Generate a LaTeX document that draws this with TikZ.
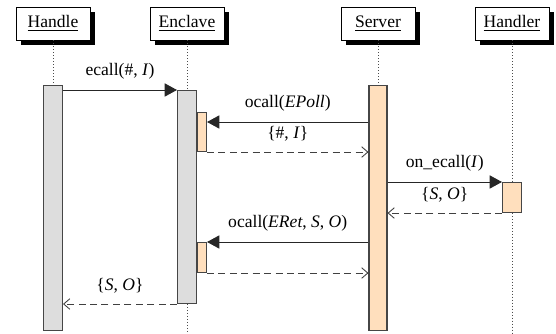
\documentclass[tikz,border=0pt]{standalone}
\usepackage{fontspec}
\setmainfont{Liberation Serif}
\usetikzlibrary{arrows.meta,positioning}
\definecolor{bargray}{RGB}{221,221,221}
\definecolor{barpeach}{RGB}{255,223,189}
\definecolor{edgegray}{RGB}{70,70,70}

\tikzset{
  actor/.style={draw=black,fill=white,minimum width=1.48cm,minimum height=0.66cm},
  actorshadow/.style={fill=black},
  bar/.style={draw=edgegray,fill=bargray,line width=0.6pt,minimum width=0.38cm,inner sep=0pt,anchor=north},
  nest/.style={draw=edgegray,fill=barpeach,line width=0.6pt,minimum width=0.19cm,inner sep=0pt,anchor=north west},
  lifeline/.style={draw=black!70,dash pattern=on 0.4pt off 1.3pt},
  call/.style={-{Triangle[length=7pt,width=7.5pt]},draw=black!85,line width=0.5pt},
  reply/.style={-{Straight Barb[length=3.5pt,width=6pt]},draw=black!75,dash pattern=on 4pt off 2.5pt,line width=0.5pt},
  msglabel/.style={midway,above=2.5pt}
}

\begin{document}
\begin{tikzpicture}[x=0.02cm,y=-0.02cm]
  \useasboundingbox (0,0) rectangle (556,334);
  \coordinate (bottom) at (0,334);
  \coordinate (poll) at (0,122);

  % actors
  \node[actor] (handle) at (53,23.5) {\underline{Handle}};
  \node[actor] (enclave) at (187,23.5) {\underline{Enclave}};
  \node[actor] (server) at (378,23.5) {\underline{Server}};
  \node[actor] (handler) at (512,23.5) {\underline{Handler}};
  % shadow strips right and below each box
  \foreach \a in {handle,enclave,server,handler}{
    \fill[actorshadow] ([yshift=-0.1cm]\a.north east) rectangle ([xshift=0.1cm,yshift=-0.1cm]\a.south east);
    \fill[actorshadow] ([xshift=0.1cm]\a.south west) rectangle ([xshift=0.1cm,yshift=-0.1cm]\a.south east);
  }

  % activations
  \node[bar,minimum height=4.9cm] (hbar) at (53,85) {};
  \node[bar,minimum height=4.26cm] (ebar) at (187,90) {};
  \node[bar,fill=barpeach,minimum width=0.36cm,minimum height=4.9cm] (sbar) at (378,85) {};
  \node[bar,fill=barpeach,minimum height=0.6cm] (hdbar) at (512,182) {};
  \node[nest,minimum height=0.78cm] (epoll) at (196.5,112) {};
  \node[nest,minimum height=0.6cm] (eret) at (196.5,242) {};

  % lifelines
  \draw[lifeline] (handle.south) -- (hbar.north);
  \draw[lifeline] (enclave.south) -- (ebar.north);
  \draw[lifeline] (ebar.south) -- (ebar.south |- bottom);
  \draw[lifeline] (server.south) -- (sbar.north);
  \draw[lifeline] (handler.south) -- (hdbar.north);
  \draw[lifeline] (hdbar.south) -- (hdbar.south |- bottom);

  % messages
  \draw[call] (hbar.east |- ebar.north) -- (ebar.north west)
    node[msglabel]{ecall(\#, \textit{I})};
  \draw[call] (sbar.west |- poll) -- (epoll.east |- poll)
    node[msglabel]{ocall(\textit{EPoll})};
  \draw[reply] (epoll.south east) -- (sbar.west |- epoll.south)
    node[msglabel]{\{\#, \textit{I}\}};
  \draw[call] (sbar.east |- hdbar.north) -- (hdbar.north west)
    node[msglabel]{on\_ecall(\textit{I})};
  \draw[reply] (hdbar.south west) -- (sbar.east |- hdbar.south)
    node[msglabel]{\{\textit{S}, \textit{O}\}};
  \draw[call] (sbar.west |- eret.north) -- (eret.north east)
    node[msglabel]{ocall(\textit{ERet}, \textit{S}, \textit{O})};
  \draw[reply] (eret.south east) -- (sbar.west |- eret.south);
  \draw[reply] (ebar.south west) -- (hbar.east |- ebar.south)
    node[msglabel]{\{\textit{S}, \textit{O}\}};
\end{tikzpicture}
\end{document}
